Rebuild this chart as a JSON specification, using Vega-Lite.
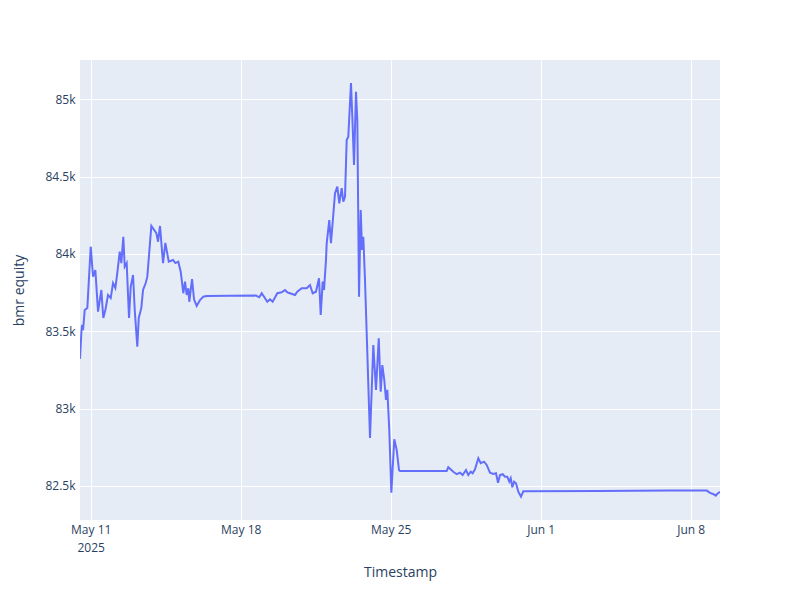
{
  "$schema": "https://vega.github.io/schema/vega-lite/v6.json",
  "width": 640,
  "height": 460,
  "autosize": {"type": "none"},
  "padding": {"left": 80, "top": 60, "right": 80, "bottom": 80},
  "background": "white",
  "data": {
    "values": [
      {"t": "2025-05-10T12:00", "v": 83322},
      {"t": "2025-05-10T13:30", "v": 83489},
      {"t": "2025-05-10T14:18", "v": 83541},
      {"t": "2025-05-10T15:24", "v": 83508},
      {"t": "2025-05-10T17:18", "v": 83638},
      {"t": "2025-05-10T20:12", "v": 83651},
      {"t": "2025-05-11T00:00", "v": 84047},
      {"t": "2025-05-11T02:36", "v": 83853},
      {"t": "2025-05-11T05:12", "v": 83896},
      {"t": "2025-05-11T08:12", "v": 83627},
      {"t": "2025-05-11T11:54", "v": 83767},
      {"t": "2025-05-11T14:06", "v": 83586},
      {"t": "2025-05-11T16:24", "v": 83638},
      {"t": "2025-05-11T19:24", "v": 83735},
      {"t": "2025-05-11T22:24", "v": 83715},
      {"t": "2025-05-12T01:00", "v": 83812},
      {"t": "2025-05-12T03:36", "v": 83780},
      {"t": "2025-05-12T05:48", "v": 83877},
      {"t": "2025-05-12T08:30", "v": 84015},
      {"t": "2025-05-12T10:18", "v": 83941},
      {"t": "2025-05-12T12:30", "v": 84111},
      {"t": "2025-05-12T14:06", "v": 83918},
      {"t": "2025-05-12T16:18", "v": 83941},
      {"t": "2025-05-12T18:54", "v": 83586},
      {"t": "2025-05-12T20:48", "v": 83788},
      {"t": "2025-05-12T23:24", "v": 83864},
      {"t": "2025-05-13T01:18", "v": 83638},
      {"t": "2025-05-13T04:12", "v": 83400},
      {"t": "2025-05-13T05:48", "v": 83586},
      {"t": "2025-05-13T08:42", "v": 83651},
      {"t": "2025-05-13T10:36", "v": 83767},
      {"t": "2025-05-13T13:36", "v": 83812},
      {"t": "2025-05-13T15:24", "v": 83853},
      {"t": "2025-05-13T19:54", "v": 84181},
      {"t": "2025-05-14T01:30", "v": 84135},
      {"t": "2025-05-14T03:24", "v": 84079},
      {"t": "2025-05-14T05:36", "v": 84181},
      {"t": "2025-05-14T09:00", "v": 83941},
      {"t": "2025-05-14T11:36", "v": 84071},
      {"t": "2025-05-14T15:24", "v": 83950},
      {"t": "2025-05-14T20:12", "v": 83961},
      {"t": "2025-05-14T22:48", "v": 83941},
      {"t": "2025-05-15T02:06", "v": 83950},
      {"t": "2025-05-15T04:48", "v": 83885},
      {"t": "2025-05-15T07:42", "v": 83746},
      {"t": "2025-05-15T09:36", "v": 83821},
      {"t": "2025-05-15T11:30", "v": 83735},
      {"t": "2025-05-15T13:18", "v": 83778},
      {"t": "2025-05-15T14:24", "v": 83691},
      {"t": "2025-05-15T17:30", "v": 83838},
      {"t": "2025-05-15T19:42", "v": 83707},
      {"t": "2025-05-15T22:42", "v": 83664},
      {"t": "2025-05-16T02:24", "v": 83702},
      {"t": "2025-05-16T06:06", "v": 83724},
      {"t": "2025-05-16T09:54", "v": 83728},
      {"t": "2025-05-17T12:00", "v": 83730},
      {"t": "2025-05-18T17:06", "v": 83731},
      {"t": "2025-05-18T20:48", "v": 83720},
      {"t": "2025-05-18T23:30", "v": 83746},
      {"t": "2025-05-19T05:48", "v": 83691},
      {"t": "2025-05-19T08:48", "v": 83707},
      {"t": "2025-05-19T11:48", "v": 83691},
      {"t": "2025-05-19T17:00", "v": 83746},
      {"t": "2025-05-19T21:54", "v": 83752},
      {"t": "2025-05-20T01:36", "v": 83767},
      {"t": "2025-05-20T04:12", "v": 83752},
      {"t": "2025-05-20T07:12", "v": 83746},
      {"t": "2025-05-20T12:48", "v": 83735},
      {"t": "2025-05-20T15:24", "v": 83756},
      {"t": "2025-05-20T20:18", "v": 83778},
      {"t": "2025-05-21T01:54", "v": 83778},
      {"t": "2025-05-21T05:36", "v": 83799},
      {"t": "2025-05-21T08:36", "v": 83746},
      {"t": "2025-05-21T12:18", "v": 83756},
      {"t": "2025-05-21T15:42", "v": 83843},
      {"t": "2025-05-21T17:36", "v": 83605},
      {"t": "2025-05-21T19:48", "v": 83821},
      {"t": "2025-05-21T21:18", "v": 83767},
      {"t": "2025-05-21T23:30", "v": 83961},
      {"t": "2025-05-22T00:18", "v": 84069},
      {"t": "2025-05-22T03:12", "v": 84219},
      {"t": "2025-05-22T05:06", "v": 84069},
      {"t": "2025-05-22T09:36", "v": 84392},
      {"t": "2025-05-22T12:12", "v": 84435},
      {"t": "2025-05-22T14:24", "v": 84327},
      {"t": "2025-05-22T17:06", "v": 84425},
      {"t": "2025-05-22T18:54", "v": 84338},
      {"t": "2025-05-22T20:48", "v": 84370},
      {"t": "2025-05-22T22:42", "v": 84737},
      {"t": "2025-05-23T00:30", "v": 84758},
      {"t": "2025-05-23T03:30", "v": 85105},
      {"t": "2025-05-23T05:00", "v": 84887},
      {"t": "2025-05-23T06:54", "v": 84575},
      {"t": "2025-05-23T09:06", "v": 85049},
      {"t": "2025-05-23T10:36", "v": 84866},
      {"t": "2025-05-23T12:30", "v": 83724},
      {"t": "2025-05-23T14:24", "v": 84284},
      {"t": "2025-05-23T15:54", "v": 84026},
      {"t": "2025-05-23T17:18", "v": 84111},
      {"t": "2025-05-23T19:12", "v": 83832},
      {"t": "2025-05-23T21:06", "v": 83487},
      {"t": "2025-05-24T00:48", "v": 82810},
      {"t": "2025-05-24T04:30", "v": 83411},
      {"t": "2025-05-24T07:30", "v": 83121},
      {"t": "2025-05-24T10:36", "v": 83455},
      {"t": "2025-05-24T12:48", "v": 83110},
      {"t": "2025-05-24T14:36", "v": 83282},
      {"t": "2025-05-24T16:48", "v": 83185},
      {"t": "2025-05-24T18:42", "v": 83056},
      {"t": "2025-05-24T20:12", "v": 83121},
      {"t": "2025-05-24T22:24", "v": 82862},
      {"t": "2025-05-25T00:42", "v": 82457},
      {"t": "2025-05-25T04:00", "v": 82802},
      {"t": "2025-05-25T06:42", "v": 82733},
      {"t": "2025-05-25T09:18", "v": 82603},
      {"t": "2025-05-25T10:24", "v": 82597},
      {"t": "2025-05-27T14:42", "v": 82597},
      {"t": "2025-05-27T16:30", "v": 82621},
      {"t": "2025-05-27T22:06", "v": 82592},
      {"t": "2025-05-28T01:54", "v": 82576},
      {"t": "2025-05-28T05:36", "v": 82586},
      {"t": "2025-05-28T08:36", "v": 82571},
      {"t": "2025-05-28T12:18", "v": 82603},
      {"t": "2025-05-28T14:54", "v": 82571},
      {"t": "2025-05-28T17:36", "v": 82592},
      {"t": "2025-05-28T19:48", "v": 82582},
      {"t": "2025-05-28T22:24", "v": 82608},
      {"t": "2025-05-29T02:06", "v": 82679},
      {"t": "2025-05-29T04:48", "v": 82647},
      {"t": "2025-05-29T08:30", "v": 82657},
      {"t": "2025-05-29T11:30", "v": 82636},
      {"t": "2025-05-29T15:12", "v": 82586},
      {"t": "2025-05-29T18:54", "v": 82578},
      {"t": "2025-05-29T21:54", "v": 82582},
      {"t": "2025-05-30T00:12", "v": 82521},
      {"t": "2025-05-30T02:24", "v": 82571},
      {"t": "2025-05-30T05:24", "v": 82576},
      {"t": "2025-05-30T08:00", "v": 82560},
      {"t": "2025-05-30T10:36", "v": 82560},
      {"t": "2025-05-30T12:48", "v": 82528},
      {"t": "2025-05-30T14:24", "v": 82550},
      {"t": "2025-05-30T16:12", "v": 82492},
      {"t": "2025-05-30T18:06", "v": 82528},
      {"t": "2025-05-30T20:18", "v": 82517},
      {"t": "2025-05-30T22:54", "v": 82463},
      {"t": "2025-05-31T01:54", "v": 82431},
      {"t": "2025-05-31T04:30", "v": 82466},
      {"t": "2025-06-03T16:06", "v": 82467},
      {"t": "2025-06-07T00:00", "v": 82470},
      {"t": "2025-06-08T18:00", "v": 82470},
      {"t": "2025-06-08T21:36", "v": 82455},
      {"t": "2025-06-09T01:00", "v": 82448},
      {"t": "2025-06-09T04:00", "v": 82437},
      {"t": "2025-06-09T05:30", "v": 82448},
      {"t": "2025-06-09T08:48", "v": 82463}
    ]
  },
  "mark": {"type": "line", "color": "#636efa", "strokeWidth": 2, "clip": true},
  "encoding": {
    "x": {
      "field": "t",
      "type": "temporal",
      "title": "Timestamp",
      "scale": {
        "domain": [
          {"year": 2025, "month": 5, "date": 10, "hours": 12},
          {"year": 2025, "month": 6, "date": 9, "hours": 8, "minutes": 48}
        ]
      },
      "axis": {
        "values": [
          {"year": 2025, "month": 5, "date": 11},
          {"year": 2025, "month": 5, "date": 18},
          {"year": 2025, "month": 5, "date": 25},
          {"year": 2025, "month": 6, "date": 1},
          {"year": 2025, "month": 6, "date": 8}
        ],
        "labelExpr": "timeFormat(datum.value, '%m-%d') == '05-11' ? [timeFormat(datum.value, '%b %-d'), '2025'] : timeFormat(datum.value, '%b %-d')",
        "labelFlush": false,
        "labelOverlap": false,
        "labelPadding": 4,
        "labelLineHeight": 18,
        "titlePadding": 12
      }
    },
    "y": {
      "field": "v",
      "type": "quantitative",
      "title": "bmr equity",
      "scale": {"domain": [82280, 85254], "nice": false, "zero": false},
      "axis": {
        "values": [82500, 83000, 83500, 84000, 84500, 85000],
        "format": "~s",
        "labelPadding": 5,
        "titlePadding": 18
      }
    }
  },
  "config": {
    "view": {"fill": "#E5ECF6", "stroke": null},
    "axis": {
      "domain": false,
      "ticks": false,
      "gridColor": "white",
      "gridWidth": 1,
      "gridOpacity": 1,
      "labelFont": "Open Sans",
      "labelFontSize": 12,
      "labelColor": "#2a3f5f",
      "titleFont": "Open Sans",
      "titleFontSize": 14,
      "titleColor": "#2a3f5f",
      "titleFontWeight": "normal"
    }
  }
}
